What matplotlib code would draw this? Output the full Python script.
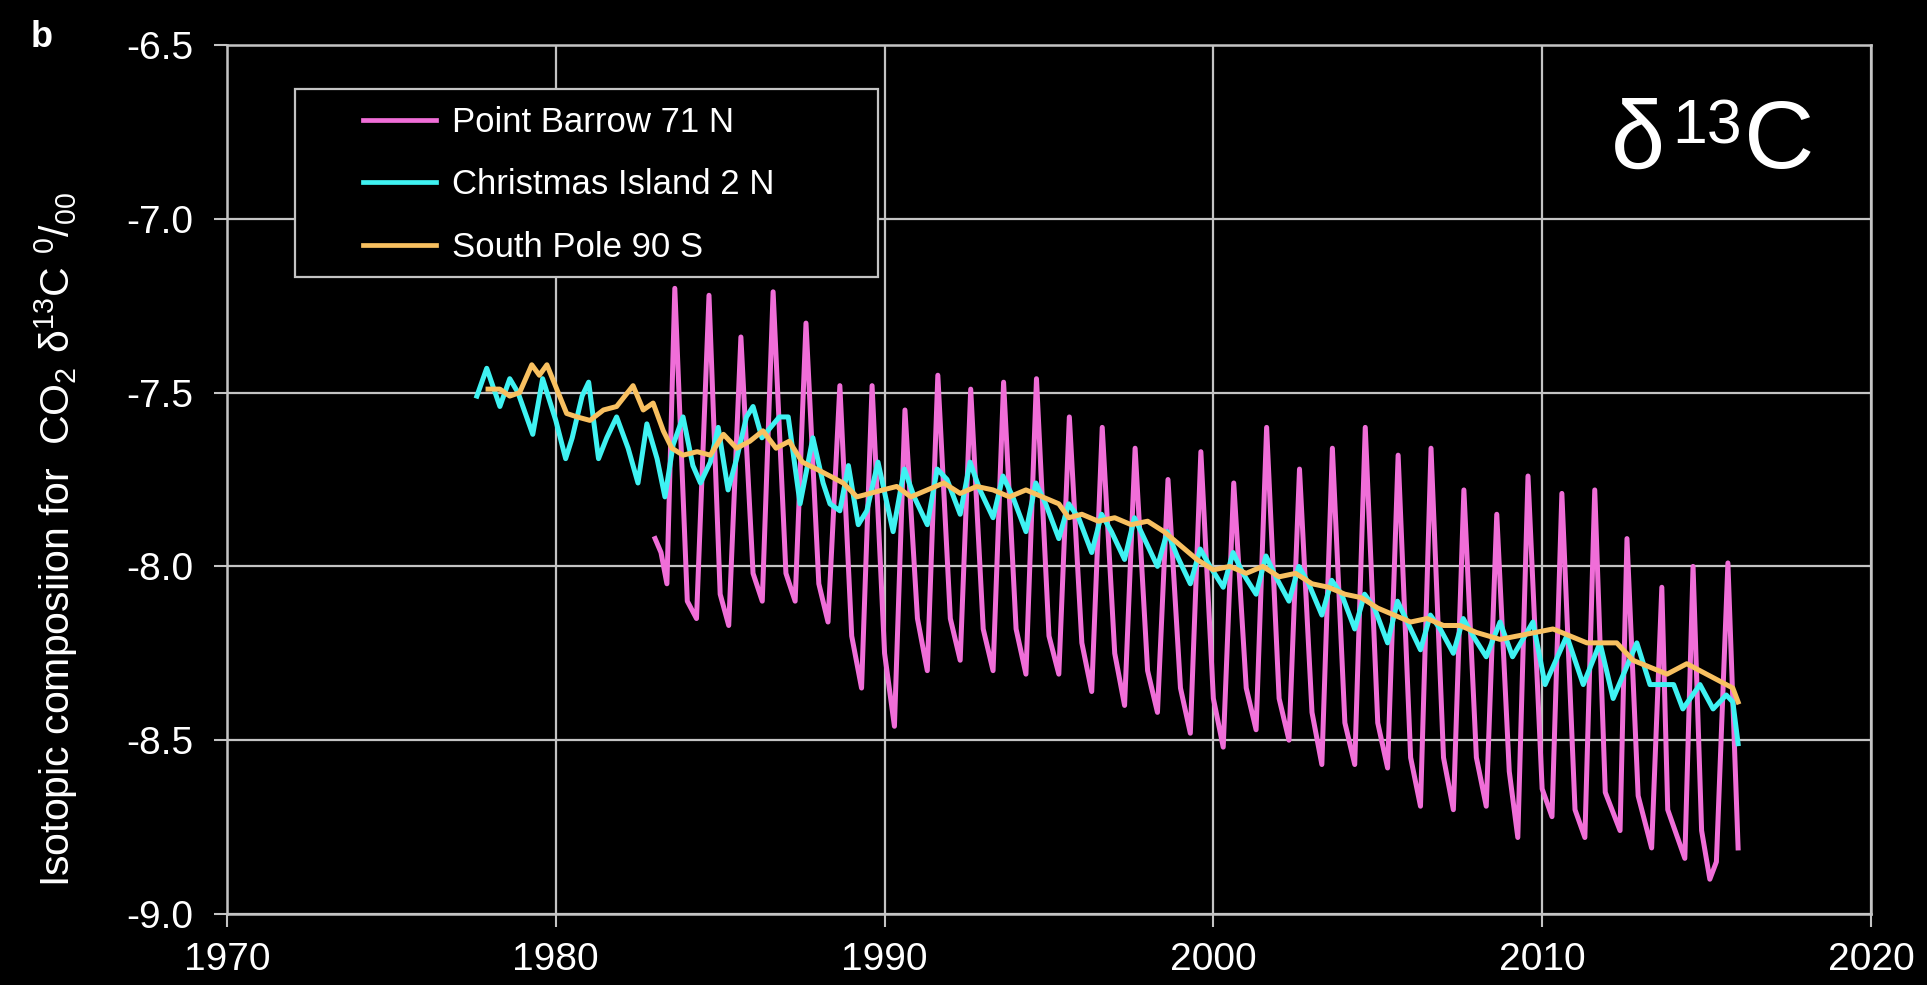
import numpy as np
import matplotlib
matplotlib.use("Agg")
import matplotlib.pyplot as plt
from matplotlib.patches import Rectangle

# Monthly-ish readings of the three station records (per mil)

# Point Barrow 71 N - strong seasonal cycle
barrow_years = [1983.02, 1983.20, 1983.38, 1983.62,
                1984.00, 1984.28, 1984.66,
                1985.00, 1985.26, 1985.63,
                1986.00, 1986.28, 1986.61,
                1987.00, 1987.28, 1987.61,
                1988.00, 1988.28, 1988.64,
                1989.00, 1989.30, 1989.62,
                1990.00, 1990.30, 1990.62,
                1991.00, 1991.30, 1991.62,
                1992.00, 1992.30, 1992.62,
                1993.00, 1993.30, 1993.62,
                1994.00, 1994.30, 1994.62,
                1995.00, 1995.30, 1995.62,
                1996.00, 1996.30, 1996.62,
                1997.00, 1997.30, 1997.62,
                1998.00, 1998.30, 1998.62,
                1999.00, 1999.30, 1999.62,
                2000.00, 2000.30, 2000.62,
                2001.00, 2001.30, 2001.62,
                2002.00, 2002.30, 2002.62,
                2003.00, 2003.30, 2003.62,
                2004.00, 2004.30, 2004.62,
                2005.00, 2005.30, 2005.62,
                2006.00, 2006.30, 2006.62,
                2007.00, 2007.30, 2007.62,
                2008.00, 2008.30, 2008.62,
                2009.00, 2009.26, 2009.57,
                2010.00, 2010.30, 2010.60,
                2011.00, 2011.30, 2011.60,
                2011.92, 2012.37, 2012.58,
                2012.92, 2013.33, 2013.64,
                2013.82, 2014.34, 2014.59,
                2014.85, 2015.10, 2015.30, 2015.65, 2015.96]
barrow_d13c = [-7.92, -7.96, -8.05, -7.20,
               -8.10, -8.15, -7.22,
               -8.08, -8.17, -7.34,
               -8.02, -8.10, -7.21,
               -8.02, -8.10, -7.30,
               -8.05, -8.16, -7.48,
               -8.20, -8.35, -7.48,
               -8.25, -8.46, -7.55,
               -8.15, -8.30, -7.45,
               -8.15, -8.27, -7.49,
               -8.18, -8.30, -7.47,
               -8.18, -8.31, -7.46,
               -8.20, -8.31, -7.57,
               -8.22, -8.36, -7.60,
               -8.25, -8.40, -7.66,
               -8.30, -8.42, -7.75,
               -8.35, -8.48, -7.67,
               -8.38, -8.52, -7.76,
               -8.35, -8.47, -7.60,
               -8.38, -8.50, -7.72,
               -8.42, -8.57, -7.66,
               -8.45, -8.57, -7.60,
               -8.45, -8.58, -7.68,
               -8.55, -8.69, -7.66,
               -8.55, -8.70, -7.78,
               -8.55, -8.69, -7.85,
               -8.59, -8.78, -7.74,
               -8.64, -8.72, -7.79,
               -8.70, -8.78, -7.78,
               -8.65, -8.76, -7.92,
               -8.66, -8.81, -8.06,
               -8.70, -8.84, -8.00,
               -8.76, -8.90, -8.85, -7.99, -8.81]

# Christmas Island 2 N
christmas_years = [1977.60, 1977.90, 1978.30, 1978.60, 1978.85, 1979.30, 1979.60,
                   1980.00, 1980.30, 1980.50, 1980.80, 1981.00, 1981.30, 1981.55,
                   1981.85, 1982.20, 1982.50, 1982.77, 1983.08, 1983.32, 1983.57,
                   1983.87, 1984.17, 1984.40, 1984.70, 1984.94, 1985.24, 1985.50,
                   1985.80, 1986.00, 1986.27, 1986.80, 1987.07, 1987.43, 1987.82,
                   1988.13, 1988.34, 1988.64, 1988.90, 1989.20, 1989.46, 1989.80,
                   1990.26, 1990.60, 1990.90, 1991.30, 1991.60, 1991.90, 1992.30,
                   1992.60, 1992.90, 1993.30, 1993.60, 1993.90, 1994.30, 1994.60,
                   1994.90, 1995.30, 1995.60, 1995.90, 1996.30, 1996.60, 1996.90,
                   1997.30, 1997.60, 1997.90, 1998.30, 1998.60, 1998.90, 1999.30,
                   1999.60, 1999.90, 2000.30, 2000.60, 2000.90, 2001.30, 2001.60,
                   2001.90, 2002.30, 2002.60, 2002.90, 2003.30, 2003.60, 2003.90,
                   2004.30, 2004.60, 2004.90, 2005.30, 2005.60, 2005.90, 2006.30,
                   2006.60, 2006.90, 2007.30, 2007.60, 2007.90, 2008.30, 2008.72,
                   2009.10, 2009.72, 2010.09, 2010.75, 2011.25, 2011.76, 2012.16,
                   2012.88, 2013.28, 2014.00, 2014.28, 2014.80, 2015.20, 2015.60,
                   2015.80, 2015.96]
christmas_d13c = [-7.51, -7.43, -7.54, -7.46, -7.50, -7.62, -7.46,
                  -7.58, -7.69, -7.63, -7.51, -7.47, -7.69, -7.63,
                  -7.57, -7.66, -7.76, -7.59, -7.69, -7.80, -7.65,
                  -7.57, -7.71, -7.76, -7.70, -7.60, -7.78, -7.69,
                  -7.57, -7.54, -7.63, -7.57, -7.57, -7.82, -7.63,
                  -7.76, -7.82, -7.84, -7.71, -7.88, -7.84, -7.70,
                  -7.90, -7.72, -7.80, -7.88, -7.72, -7.75, -7.85,
                  -7.70, -7.78, -7.86, -7.74, -7.80, -7.90, -7.76,
                  -7.82, -7.92, -7.82, -7.86, -7.96, -7.85, -7.90,
                  -7.98, -7.86, -7.92, -8.00, -7.90, -7.97, -8.05,
                  -7.95, -8.00, -8.06, -7.96, -8.02, -8.08, -7.97,
                  -8.03, -8.10, -8.00, -8.05, -8.14, -8.04, -8.08,
                  -8.18, -8.08, -8.12, -8.22, -8.10, -8.16, -8.24,
                  -8.14, -8.18, -8.25, -8.15, -8.20, -8.26, -8.16,
                  -8.26, -8.16, -8.34, -8.20, -8.34, -8.22, -8.38,
                  -8.22, -8.34, -8.34, -8.41, -8.34, -8.41, -8.37,
                  -8.39, -8.51]

# South Pole 90 S
southpole_years = [1977.94, 1978.30, 1978.60, 1978.90, 1979.27, 1979.50, 1979.73,
                   1980.03, 1980.33, 1980.65, 1981.04, 1981.45, 1981.85, 1982.35,
                   1982.66, 1982.96, 1983.27, 1983.53, 1983.87, 1984.30, 1984.70,
                   1985.10, 1985.50, 1985.90, 1986.30, 1986.70, 1987.10, 1987.50,
                   1987.93, 1988.34, 1988.74, 1989.16, 1989.56, 1989.95, 1990.37,
                   1990.80, 1991.30, 1991.80, 1992.30, 1992.80, 1993.30, 1993.80,
                   1994.30, 1994.80, 1995.30, 1995.60, 1996.00, 1996.50, 1997.00,
                   1997.50, 1998.00, 1998.50, 1999.00, 1999.50, 2000.00, 2000.50,
                   2001.00, 2001.50, 2002.00, 2002.50, 2003.00, 2003.50, 2004.00,
                   2004.50, 2005.00, 2005.50, 2006.00, 2006.50, 2007.00, 2007.50,
                   2008.00, 2008.72, 2010.33, 2011.36, 2012.27, 2012.76, 2013.80,
                   2014.40, 2014.80, 2015.40, 2015.80, 2015.96]
southpole_d13c = [-7.49, -7.49, -7.51, -7.50, -7.42, -7.45, -7.42,
                  -7.49, -7.56, -7.57, -7.58, -7.55, -7.54, -7.48,
                  -7.55, -7.53, -7.61, -7.66, -7.68, -7.67, -7.68,
                  -7.62, -7.66, -7.64, -7.61, -7.66, -7.64, -7.70,
                  -7.72, -7.74, -7.76, -7.80, -7.79, -7.78, -7.77,
                  -7.80, -7.78, -7.76, -7.79, -7.77, -7.78, -7.80,
                  -7.78, -7.80, -7.82, -7.86, -7.85, -7.87, -7.86,
                  -7.88, -7.87, -7.90, -7.94, -7.98, -8.01, -8.00,
                  -8.02, -8.00, -8.03, -8.02, -8.05, -8.06, -8.08,
                  -8.09, -8.12, -8.14, -8.16, -8.15, -8.17, -8.17,
                  -8.19, -8.21, -8.18, -8.22, -8.22, -8.27, -8.31,
                  -8.28, -8.30, -8.33, -8.35, -8.39]

series_labels = ["Point Barrow 71 N", "Christmas Island 2 N", "South Pole 90 S"]
series_colors = ["#f06ed8", "#3ff2f2", "#f8c060"]

x_ticks = [1970, 1980, 1990, 2000, 2010, 2020]
y_ticks = [-9.0, -8.5, -8.0, -7.5, -7.0, -6.5]

grid_col = "#c4c4c4"
font = "Liberation Sans"
line_w = 3.6

fig = plt.figure(figsize=(19.27, 9.85), dpi=100, facecolor="black")
ax = fig.add_axes([0.1178, 0.0721, 0.8531, 0.8822], facecolor="black")

ax.plot(barrow_years, barrow_d13c, color=series_colors[0], lw=line_w,
        label=series_labels[0], zorder=3)
ax.plot(christmas_years, christmas_d13c, color=series_colors[1], lw=line_w,
        label=series_labels[1], zorder=3)
ax.plot(southpole_years, southpole_d13c, color=series_colors[2], lw=line_w,
        label=series_labels[2], zorder=4)

ax.set_xlim(1970, 2020)
ax.set_ylim(-9.0, -6.5)
ax.set_xticks(x_ticks)
ax.set_yticks(y_ticks)
ax.set_yticklabels([f"{v:.1f}" for v in y_ticks])
ax.grid(True, color=grid_col, lw=1.6, zorder=1)
ax.set_axisbelow(True)

for s in ax.spines.values():
    s.set_color(grid_col)
    s.set_linewidth(1.8)

ax.tick_params(axis="both", direction="out", length=9.5, width=1.5,
               colors=grid_col, labelcolor="white", labelsize=28)
ax.tick_params(axis="x", pad=11)
ax.tick_params(axis="y", pad=14.5)
for lab in ax.get_xticklabels() + ax.get_yticklabels():
    lab.set_family(font)

# legend box (opaque, square corners) and entries
ax.add_patch(Rectangle((0.0414, 0.733), 0.3546, 0.2163, transform=ax.transAxes,
                       facecolor="black", edgecolor=grid_col, lw=1.6, zorder=5))
leg = ax.legend(loc="upper left", bbox_to_anchor=(0.0724, 0.950),
                frameon=False, borderpad=0, handlelength=2.1,
                handletextpad=0.45, labelspacing=0.85,
                prop={"family": font, "size": 25})
leg.set_zorder(6)
for t in leg.get_texts():
    t.set_color("white")
for h in leg.get_lines():
    h.set_linewidth(3.4)

# big delta 13C label, built from three pieces so the superscript sits low
ax.text(0.8418, 0.8585, "\u03b4", transform=ax.transAxes, color="white",
        fontsize=70, family=font, ha="left", va="baseline", zorder=6)
ax.text(0.8790, 0.8872, "13", transform=ax.transAxes, color="white",
        fontsize=45, family=font, ha="left", va="baseline", zorder=6)
ax.text(0.9226, 0.8585, "C", transform=ax.transAxes, color="white",
        fontsize=70, family=font, ha="left", va="baseline", zorder=6)

# y axis title and panel letter
fig.text(0.029, 0.452,
         r"Isotopic composiion for  $\mathregular{CO_2\ \delta^{13}C\ ^{0}/_{00}}$",
         rotation=90, color="white", fontsize=29.5, family=font,
         ha="center", va="center")
fig.text(0.016, 0.952, "b", color="white", fontsize=26, fontweight="bold",
         family=font, ha="left", va="baseline")

fig.savefig("out.png", dpi=100, facecolor="black")
